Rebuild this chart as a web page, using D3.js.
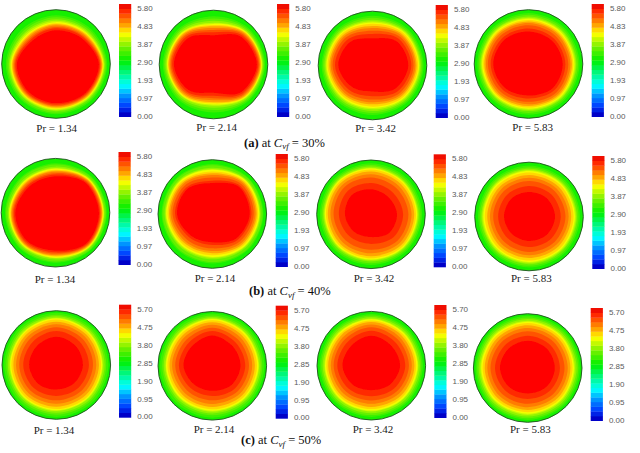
<!DOCTYPE html>
<html>
<head>
<meta charset="utf-8">
<script src="https://cdn.jsdelivr.net/npm/d3@7"></script>
<style>
  html, body { margin: 0; padding: 0; background: #fff; }
  svg { display: block; }
</style>
</head>
<body>
<div id="chart"></div>
<script>
// Values
const rowLetters = ["a", "b", "c"];
const concentrations = [30, 40, 50];
const prandtl = ["1.34", "2.14", "3.42", "5.83"];
const scaleTicks = [
  [0, 0.97, 1.93, 2.9, 3.87, 4.83, 5.8],
  [0, 0.97, 1.93, 2.9, 3.87, 4.83, 5.8],
  [0, 0.95, 1.9, 2.85, 3.8, 4.75, 5.7],
];

// colour bands on the scale, the discs use the upper ones
const bandCount = 24;
const contourBands = [13, 14, 15, 16, 17, 18, 19, 20, 21, 22];
const edgeBand = 12;
const coreBand = 23;

// mean radius of each contour in contourBands, % of disc radius
const contourRadii = [
  [92, 89, 86, 84, 82, 80.5, 79, 77, 75, 73],
  [92, 89, 86, 83.5, 82, 80.5, 79, 76.5, 74, 71],
  [93, 90, 87, 84.5, 82.5, 80.5, 77, 74, 70, 65],
  [94, 91, 88, 86, 84, 82, 79.5, 76.5, 72.5, 67],
  [93, 91, 88, 86, 85, 83.5, 82, 80.5, 78.5, 76.5],
  [93, 91, 87, 85, 83.5, 81, 78, 75, 71, 66],
  [94, 91, 88, 86, 84.5, 82.5, 79, 74, 68, 58],
  [94, 91, 88, 86, 84, 81.5, 77, 72, 66, 57],
  [96, 92, 89, 86, 84.5, 82.5, 78.5, 73.5, 67.5, 60],
  [96, 92, 89, 86, 84.5, 82, 78, 73, 67, 60],
  [95, 92, 89, 86, 84.5, 82, 78.5, 73.5, 68, 61],
  [96, 93, 90, 87, 85, 82.5, 78.5, 73.5, 67.5, 59],
];

// red core outline, % of disc radius, every 45deg clockwise from the right
const coreRadii = [
  [79, 76, 72, 72, 72, 61, 62, 67],
  [80, 72, 52, 66, 73, 68, 54, 72],
  [66, 60, 48, 55, 63, 60, 50, 63],
  [63, 63, 58, 62, 65, 63, 60, 61],
  [80, 80, 70, 74, 74, 68, 67, 78],
  [69, 63, 52, 56, 65, 65, 57, 70],
  [48, 48, 42, 45, 48, 50, 46, 45],
  [48, 47, 45, 45, 46, 46, 45, 47],
  [49, 47, 45, 48, 50, 50, 52, 50],
  [52, 50, 46, 48, 53, 52, 56, 52],
  [53, 49, 45, 49, 53, 52, 55, 52],
  [50, 49, 47, 49, 51, 50, 50, 50],
];

// Layout, the panels in the figure are not quite on a grid
const width = 640, height = 453;
const discX = [56, 213.5, 372.5, 528.5, 55.5, 212.3, 371, 529, 56.3, 212.3, 371.3, 527.7];
const discY = [64, 64.5, 65.5, 64, 212.7, 214, 214.3, 216.5, 365, 365.8, 365.7, 368];
const barX = [119, 277, 435.7, 591.7, 118.5, 275.7, 433.7, 592.3, 119, 275.7, 434.3, 590.7];
const barY = [4, 4, 5, 4, 152, 154, 154.3, 156, 304.7, 305.7, 305, 308];
const labelX = [56.7, 216.7, 375.7, 532.7, 55, 215, 374, 531.3, 54, 214, 373, 530.3];
const labelY = [132, 130.7, 131.7, 131, 283.3, 281.7, 282.3, 281.7, 434, 432.7, 432.7, 432.7];
const captionX = [244, 249, 241];
const captionY = [146.7, 295, 444];
const discR = 54.3, barW = 12.2, barH = 112.7;

const svg = d3
  .select("#chart")
  .append("svg")
  .attr("width", width)
  .attr("height", height)
  .attr("viewBox", `0 0 ${width} ${height}`);

const defs = svg.append("defs");
defs
  .append("filter")
  .attr("id", "soft")
  .append("feGaussianBlur")
  .attr("stdDeviation", 0.5);
defs
  .append("filter")
  .attr("id", "softBar")
  .append("feGaussianBlur")
  .attr("stdDeviation", 0.35);
defs
  .append("clipPath")
  .attr("id", "disc")
  .append("circle")
  .attr("r", discR);

const bandColor = d3
  .scaleLinear()
  .domain([0, 0.08, 0.17, 0.27, 0.5, 0.62, 0.75, 0.83, 0.96, 1])
  .range(["#0000c8", "#0040ff", "#0090ff", "#00ffff", "#00f000", "#70f000", "#ffff00", "#ffa000", "#ff2800", "#f01000"]);
const colorOf = (band) => bandColor(band / (bandCount - 1));

const rScale = d3.scaleLinear().domain([0, 100]).range([0, discR]);
const angleOf = (i) => Math.PI / 2 + (i * Math.PI) / 4;
const outline = d3
  .lineRadial()
  .angle((d, i) => angleOf(i))
  .radius((d) => rScale(d))
  .curve(d3.curveCardinalClosed.tension(0));

d3.range(12).forEach((p) => {
  const row = Math.floor(p / 4);
  const core = coreRadii[p];
  const coreMean = d3.mean(core);

  // contours relax from the core's shape to a circle at the wall
  const contourAt = (mean) =>
    core.map((c) => mean + ((c - coreMean) * (100 - mean)) / (100 - coreMean));

  const disc = svg
    .append("g")
    .attr("transform", `translate(${discX[p]}, ${discY[p]})`);

  const field = disc
    .append("g")
    .attr("clip-path", "url(#disc)")
    .append("g")
    .attr("filter", "url(#soft)");

  field
    .append("circle")
    .attr("r", discR + 3)
    .attr("fill", colorOf(edgeBand));

  field
    .selectAll("path")
    .data(contourBands.map((band, i) => ({ band, points: contourAt(contourRadii[p][i]) })))
    .join("path")
    .attr("d", (d) => outline(d.points))
    .attr("fill", (d) => colorOf(d.band));

  field
    .append("path")
    .attr("d", outline(core))
    .attr("fill", "#ff0000");

  disc
    .append("circle")
    .attr("r", discR)
    .attr("fill", "none")
    .attr("stroke", "#1f4f1f")
    .attr("stroke-width", 0.9);

  // Colour bar
  const bar = svg
    .append("g")
    .attr("transform", `translate(${barX[p]}, ${barY[p]})`);

  const bandY = d3
    .scaleBand()
    .domain(d3.range(bandCount))
    .range([barH, 0]);

  bar
    .append("g")
    .attr("filter", "url(#softBar)")
    .selectAll("rect")
    .data(d3.range(bandCount))
    .join("rect")
    .attr("width", barW)
    .attr("y", (d) => bandY(d))
    .attr("height", bandY.bandwidth() + 0.3)
    .attr("fill", colorOf);

  const ticks = scaleTicks[row];
  const tickY = d3
    .scaleLinear()
    .domain([0, d3.max(ticks)])
    .range([barH - 1, 4]);

  const axis = bar
    .append("g")
    .attr("transform", `translate(${barW}, 0)`)
    .call(
      d3
        .axisRight(tickY)
        .tickValues(ticks)
        .tickFormat(d3.format(".2f"))
        .tickSize(0)
        .tickPadding(6)
    );
  axis.select(".domain").remove();
  axis
    .selectAll("text")
    .attr("font-family", "'Liberation Sans', Arial, sans-serif")
    .attr("font-size", 8)
    .attr("fill", "#5a5a5a");

  // Pr label under the disc
  svg
    .append("text")
    .attr("x", labelX[p])
    .attr("y", labelY[p])
    .attr("text-anchor", "middle")
    .attr("font-family", "'Liberation Serif', serif")
    .attr("font-size", 11)
    .attr("fill", "#222")
    .text(`Pr = ${prandtl[p % 4]}`);
});

// Captions, one per row
const caption = svg
  .selectAll(".caption")
  .data(rowLetters)
  .join("text")
  .attr("class", "caption")
  .attr("x", (d, i) => captionX[i])
  .attr("y", (d, i) => captionY[i])
  .attr("font-family", "'Liberation Serif', serif")
  .attr("font-size", 12.5)
  .attr("fill", "#111");

caption
  .append("tspan")
  .attr("font-weight", "bold")
  .text((d) => `(${d})`);
caption.append("tspan").text(" at ");
caption
  .append("tspan")
  .attr("font-style", "italic")
  .text("C");
caption
  .append("tspan")
  .attr("font-style", "italic")
  .attr("font-size", 9)
  .attr("dy", 2.5)
  .text("vf");
caption
  .append("tspan")
  .attr("dy", -2.5)
  .text((d, i) => ` = ${concentrations[i]}%`);
</script>
</body>
</html>
